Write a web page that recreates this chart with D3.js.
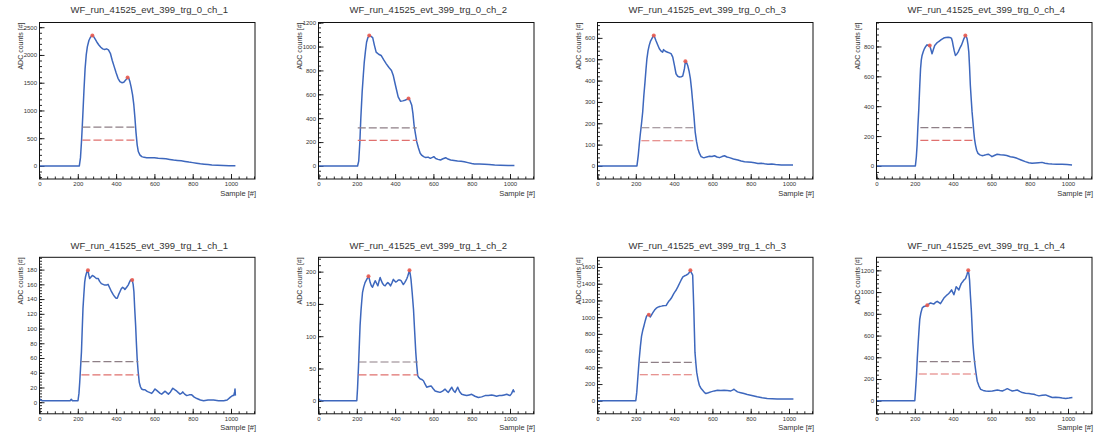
<!DOCTYPE html>
<html>
<head>
<meta charset="utf-8">
<script src="https://cdn.jsdelivr.net/npm/d3@7"></script>
<style>
  body { margin: 0; background: #fff; }
  svg { display: block; font-family: "Liberation Sans", Arial, sans-serif; }
</style>
</head>
<body>
<svg id="canvas" width="1101" height="436"></svg>
<script>
// --- data (sample, ADC counts) ---
const titles = [
  "WF_run_41525_evt_399_trg_0_ch_1", "WF_run_41525_evt_399_trg_0_ch_2",
  "WF_run_41525_evt_399_trg_0_ch_3", "WF_run_41525_evt_399_trg_0_ch_4",
  "WF_run_41525_evt_399_trg_1_ch_1", "WF_run_41525_evt_399_trg_1_ch_2",
  "WF_run_41525_evt_399_trg_1_ch_3", "WF_run_41525_evt_399_trg_1_ch_4"
];

const wf_t0_ch1 = [[0,0],[208,0],[214,150],[220,480],[226,900],[232,1350],[238,1750],[244,2000],[250,2150],[258,2260],[266,2320],[276,2350],[282,2335],[290,2290],[300,2230],[310,2180],[320,2140],[330,2110],[340,2100],[350,2110],[360,2090],[370,2030],[380,1900],[390,1790],[400,1680],[410,1580],[420,1520],[430,1500],[440,1510],[450,1550],[460,1592],[466,1580],[472,1520],[478,1430],[486,1280],[492,1120],[498,880],[504,600],[510,380],[516,260],[524,200],[534,168],[546,155],[560,150],[580,148],[600,150],[620,140],[640,135],[660,128],[680,118],[700,108],[720,100],[740,92],[760,82],[780,70],[800,60],[820,50],[840,40],[860,32],[880,25],[900,18],[930,12],[960,8],[990,5],[1023,3]];

const wf_t0_ch2 = [[0,0],[204,0],[210,40],[216,200],[221,400],[228,620],[234,760],[239,870],[245,960],[251,1036],[258,1075],[265,1092],[274,1085],[283,1075],[292,1010],[301,953],[314,935],[327,925],[340,890],[354,855],[368,825],[381,800],[390,760],[398,703],[407,640],[416,578],[428,542],[440,545],[451,550],[462,558],[470,565],[476,555],[487,508],[493,440],[499,342],[506,270],[513,203],[522,150],[531,106],[540,88],[549,78],[560,70],[572,74],[584,64],[595,72],[602,78],[612,62],[624,55],[637,50],[650,60],[664,69],[676,58],[690,50],[708,46],[726,42],[744,40],[761,36],[780,28],[800,20],[814,17],[840,16],[867,14],[890,12],[920,8],[950,6],[990,3],[1023,3]];

const wf_t0_ch3 = [[0,0],[206,0],[213,51],[218,100],[223,145],[230,200],[236,253],[242,330],[248,393],[253,450],[258,502],[264,540],[270,565],[277,585],[284,596],[290,608],[294,611],[300,600],[305,588],[314,568],[323,549],[332,538],[340,533],[345,545],[349,541],[357,536],[366,533],[375,530],[384,526],[393,510],[402,470],[410,432],[419,420],[428,417],[437,418],[445,421],[450,440],[454,456],[459,490],[465,485],[471,471],[478,445],[485,409],[491,360],[497,300],[504,230],[510,160],[517,115],[524,82],[532,60],[541,44],[550,40],[558,39],[570,42],[585,45],[598,44],[611,48],[624,42],[637,39],[650,44],[663,48],[676,42],[689,39],[710,33],[733,28],[750,23],[768,20],[785,19],[803,17],[820,15],[838,12],[855,13],[872,10],[890,8],[910,9],[930,7],[960,5],[990,5],[1021,5]];

const wf_t0_ch4 = [[0,0],[203,0],[208,60],[212,140],[216,260],[221,384],[226,540],[230,651],[234,710],[238,740],[244,765],[250,784],[257,800],[264,811],[271,805],[278,807],[284,780],[290,751],[297,780],[304,807],[314,822],[325,833],[338,845],[351,856],[362,860],[374,862],[383,860],[391,856],[396,835],[400,807],[406,770],[412,740],[419,748],[426,762],[434,785],[443,807],[450,830],[456,851],[464,873],[469,865],[473,851],[478,810],[482,762],[486,660],[490,540],[495,440],[499,362],[504,290],[508,229],[512,180],[517,140],[523,105],[530,84],[540,74],[551,69],[562,72],[575,76],[586,78],[595,70],[603,62],[615,70],[630,78],[647,75],[664,73],[680,70],[699,62],[716,58],[734,51],[755,40],[777,29],[795,22],[812,18],[830,20],[847,22],[864,24],[880,18],[898,15],[917,13],[940,12],[969,11],[995,9],[1021,7]];

const wf_t1_ch1 = [[0,5],[5,3],[15,2],[100,2],[160,2],[166,4],[172,2],[201,2],[206,12],[210,27],[214,45],[219,68],[223,98],[227,127],[232,148],[236,163],[240,170],[245,175],[249,178],[253,179],[258,172],[262,168],[269,170],[276,172],[282,171],[288,170],[297,168],[306,168],[314,164],[323,161],[332,160],[341,159],[350,159],[358,160],[367,155],[376,150],[385,146],[393,143],[400,141],[406,141],[413,146],[420,150],[427,154],[434,156],[440,155],[446,153],[455,156],[463,159],[470,163],[476,166],[484,166],[489,160],[493,150],[497,128],[502,104],[506,80],[510,59],[515,42],[521,27],[527,21],[533,18],[542,17],[551,17],[560,15],[568,14],[577,13],[586,12],[595,15],[603,18],[612,16],[621,14],[630,12],[638,11],[647,13],[656,15],[664,13],[673,11],[684,14],[696,19],[706,17],[717,15],[725,13],[734,11],[741,12],[748,14],[758,11],[769,9],[782,10],[795,10],[808,7],[822,5],[840,3],[857,2],[880,3],[909,3],[935,2],[962,2],[980,3],[997,7],[1008,9],[1014,9],[1019,14],[1021,18],[1023,9]];

const wf_t1_ch2 = [[0,3],[6,1],[20,0],[100,0],[200,0],[204,20],[209,54],[213,85],[217,116],[222,140],[226,155],[230,168],[236,176],[243,183],[252,188],[261,193],[266,188],[270,183],[276,178],[282,176],[289,181],[296,186],[303,182],[310,178],[316,185],[322,191],[328,186],[334,182],[341,179],[348,178],[355,181],[362,183],[369,181],[376,178],[384,183],[391,188],[397,186],[403,184],[410,185],[417,187],[424,187],[431,186],[437,183],[443,180],[450,183],[456,186],[461,189],[466,193],[471,198],[475,202],[479,196],[483,188],[489,168],[496,142],[502,108],[508,75],[513,55],[518,39],[524,36],[530,34],[539,33],[548,31],[556,26],[565,21],[576,22],[588,23],[598,19],[609,15],[622,14],[635,13],[648,15],[661,18],[670,15],[678,13],[687,17],[696,21],[704,16],[713,13],[720,17],[727,21],[737,14],[748,10],[761,9],[774,8],[787,9],[800,10],[817,7],[835,5],[852,6],[870,8],[887,8],[904,9],[917,8],[930,7],[944,8],[957,8],[970,9],[983,10],[992,9],[1000,8],[1008,11],[1017,17],[1020,15],[1023,13]];

const wf_t1_ch3 = [[0,0],[200,0],[205,100],[209,224],[214,380],[218,499],[224,650],[230,774],[236,840],[242,892],[249,955],[256,1010],[262,1025],[268,1030],[272,1015],[276,1002],[283,1030],[290,1057],[298,1085],[307,1108],[316,1120],[325,1128],[334,1132],[342,1136],[350,1138],[359,1140],[365,1165],[371,1187],[378,1205],[385,1226],[392,1255],[399,1285],[405,1305],[411,1325],[420,1365],[428,1403],[437,1445],[446,1482],[455,1495],[463,1502],[469,1510],[475,1521],[480,1540],[485,1560],[491,1530],[497,1502],[500,1300],[503,1089],[506,830],[509,578],[514,440],[518,342],[525,250],[532,185],[540,150],[549,126],[558,100],[566,86],[579,95],[592,106],[610,118],[627,126],[644,124],[661,126],[678,122],[696,118],[705,128],[713,138],[722,120],[731,106],[748,96],[765,86],[782,76],[800,67],[817,57],[834,47],[860,36],[886,28],[912,24],[938,20],[964,20],[990,20],[1023,20]];

const wf_t1_ch4 = [[0,0],[200,0],[204,100],[209,240],[213,390],[218,540],[222,650],[226,750],[232,810],[239,855],[248,868],[257,872],[265,879],[273,890],[282,900],[291,895],[300,891],[308,905],[317,915],[325,905],[334,894],[343,920],[352,945],[360,960],[369,975],[376,985],[382,996],[387,1008],[392,1020],[398,998],[404,975],[410,1010],[416,1050],[423,1035],[430,1020],[436,1050],[443,1080],[450,1095],[456,1110],[461,1118],[465,1125],[472,1160],[479,1200],[483,1160],[486,1110],[490,980],[495,840],[499,690],[503,540],[508,430],[514,330],[520,250],[526,180],[535,135],[544,105],[557,95],[570,90],[587,88],[605,90],[618,95],[631,99],[644,94],[657,90],[670,100],[683,111],[696,100],[709,90],[722,94],[735,99],[748,86],[761,75],[778,70],[796,66],[809,63],[822,60],[835,52],[848,45],[865,50],[883,54],[900,42],[918,30],[935,32],[953,30],[970,25],[988,21],[1005,25],[1023,30]];

const waveforms = [wf_t0_ch1, wf_t0_ch2, wf_t0_ch3, wf_t0_ch4, wf_t1_ch1, wf_t1_ch2, wf_t1_ch3, wf_t1_ch4];

// found peaks (red markers)
const peaks = [
  [[276,2350],[460,1592]], [[265,1092],[470,565]],
  [[294,611],[459,490]],   [[278,807],[464,873]],
  [[253,179],[484,166]],   [[261,193],[475,202]],
  [[268,1030],[485,1560]], [[265,879],[479,1200]]
];

// threshold levels and their sample span
const thrHigh  = [700, 319, 179, 256, 55, 60, 460, 360];
const thrLow   = [466, 214, 118, 171, 37, 40, 311, 246];
const thrStart = [224, 205, 229, 229, 219, 209, 221, 221];
const thrEnd   = [507, 513, 508, 510, 516, 518, 509, 517];

// axis tick steps, as printed on the labels
const yTickStep = [500, 200, 100, 200, 20, 50, 200, 200];
const xTickStep = 200;
const nSamples = 1023;

// --- layout ---
const frameW = 215.5, frameH = 156.5;
const col0 = 39.5, colStep = 279;
const row0 = 22.5, rowStep = 234.8;

const svg = d3.select("#canvas");

waveforms.forEach((wf, i) => {
  const col = i % 4, row = Math.floor(i / 4);
  const g = svg.append("g")
    .attr("transform", `translate(${col0 + col * colStep}, ${row0 + row * rowStep})`);

  // ROOT-like graph ranges: 10% margins
  const xMax = nSamples + 0.1 * nSamples;
  const yLo = d3.min(wf, d => d[1]), yHi = d3.max(wf, d => d[1]);
  const dy = 0.1 * (yHi - yLo);

  const x = d3.scaleLinear().domain([0, xMax]).range([0, frameW]);
  const y = d3.scaleLinear().domain([yLo - dy, yHi + dy]).range([frameH, 0]);

  const step = yTickStep[i];
  const yMajor = d3.range(Math.ceil(y.domain()[0] / step) * step, y.domain()[1] + 1e-9, step);
  const yMinor = d3.range(Math.ceil(y.domain()[0] / (step / 5)) * (step / 5), y.domain()[1], step / 5);
  const xMajor = d3.range(0, xMax, xTickStep);
  const xMinor = d3.range(0, xMax, xTickStep / 5);

  // clip
  const clipId = "clip" + i;
  g.append("clipPath").attr("id", clipId)
    .append("rect").attr("width", frameW).attr("height", frameH);

  // axes (ticks inward)
  const xAxisMinor = g.append("g").attr("transform", `translate(0,${frameH})`)
    .call(d3.axisBottom(x).tickValues(xMinor).tickSize(-2.5).tickFormat(""));
  const xAxis = g.append("g").attr("transform", `translate(0,${frameH})`)
    .call(d3.axisBottom(x).tickValues(xMajor).tickSize(-5).tickPadding(2.5)
      .tickFormat(d3.format("d")));
  const yAxisMinor = g.append("g")
    .call(d3.axisLeft(y).tickValues(yMinor).tickSize(-2.5).tickFormat(""));
  const yAxis = g.append("g")
    .call(d3.axisLeft(y).tickValues(yMajor).tickSize(-5).tickPadding(2.5)
      .tickFormat(d3.format("d")));

  [xAxisMinor, xAxis, yAxisMinor, yAxis].forEach(a => {
    a.select(".domain").remove();
    a.selectAll(".tick line").attr("stroke", "#111").attr("stroke-width", 0.9);
    a.selectAll(".tick text").attr("font-size", 6).attr("fill", "#333")
      .attr("font-family", "Liberation Sans, Arial, sans-serif");
  });

  // waveform
  const line = d3.line().x(d => x(d[0])).y(d => y(d[1]));
  g.append("path")
    .datum(wf)
    .attr("clip-path", `url(#${clipId})`)
    .attr("fill", "none")
    .attr("stroke", "#3d67bd")
    .attr("stroke-width", 1.5)
    .attr("stroke-linejoin", "round")
    .attr("d", line);

  // thresholds
  g.append("line")
    .attr("x1", x(thrStart[i])).attr("x2", x(thrEnd[i]))
    .attr("y1", y(thrHigh[i])).attr("y2", y(thrHigh[i]))
    .attr("stroke", "#8e7f86").attr("stroke-width", 1.2)
    .attr("stroke-dasharray", "8,3");
  g.append("line")
    .attr("x1", x(thrStart[i])).attr("x2", x(thrEnd[i]))
    .attr("y1", y(thrLow[i])).attr("y2", y(thrLow[i]))
    .attr("stroke", "#e0706e").attr("stroke-width", 1.2)
    .attr("stroke-dasharray", "8,3");

  // peak markers
  g.selectAll(".pk").data(peaks[i]).enter().append("circle")
    .attr("class", "pk")
    .attr("cx", d => x(d[0])).attr("cy", d => y(d[1]))
    .attr("r", 2)
    .attr("fill", "#ea5a4e")
    .attr("opacity", 0.9);

  // frame
  g.append("rect")
    .attr("width", frameW).attr("height", frameH)
    .attr("fill", "none").attr("stroke", "#111").attr("stroke-width", 1);

  // titles
  g.append("text")
    .attr("x", frameW / 2 + 2).attr("y", -10 + row * 1.5)
    .attr("text-anchor", "middle")
    .attr("font-size", 9.5).attr("fill", "#333")
    .text(titles[i]);

  g.append("text")
    .attr("transform", `translate(-17,0) rotate(-90)`)
    .attr("text-anchor", "end")
    .attr("font-size", 7).attr("fill", "#333")
    .text("ADC counts [#]");

  g.append("text")
    .attr("x", frameW + 1).attr("y", frameH + 16.5)
    .attr("text-anchor", "end")
    .attr("font-size", 7.5).attr("fill", "#333")
    .text("Sample [#]");
});
</script>
</body>
</html>
